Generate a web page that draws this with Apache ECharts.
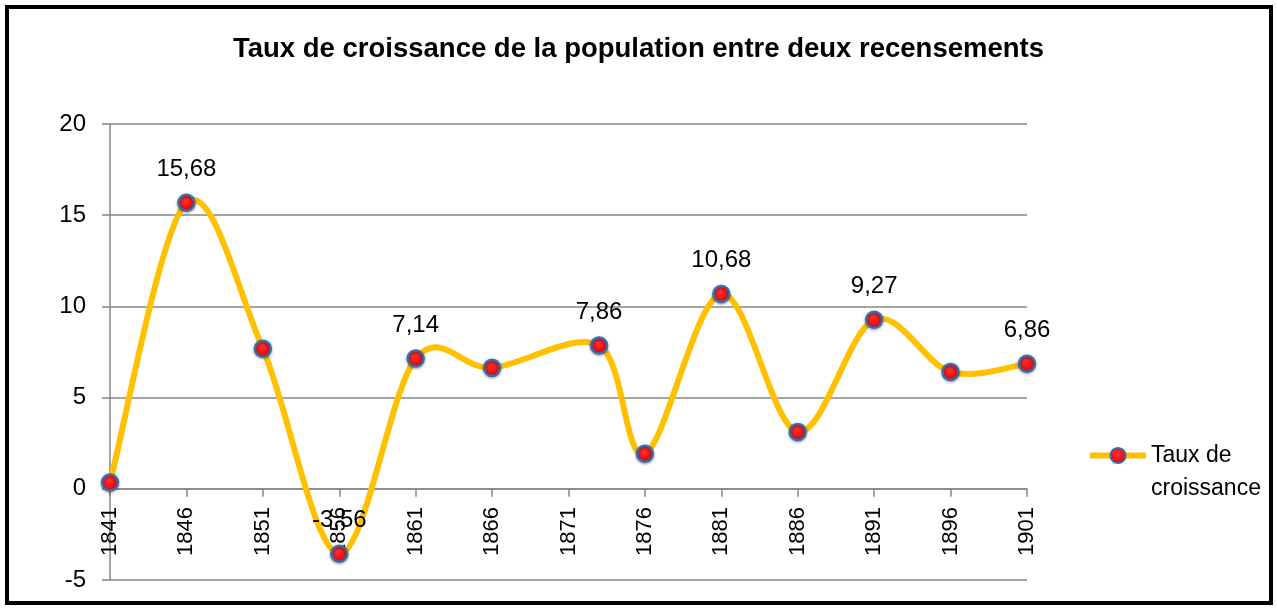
<!DOCTYPE html>
<html>
<head>
<meta charset="utf-8">
<script src="https://cdn.jsdelivr.net/npm/echarts@6/dist/echarts.min.js"></script>
<style>
  html, body { margin: 0; padding: 0; background: #fff; }
  #chart { width: 1277px; height: 610px; }
</style>
</head>
<body>
<div id="chart"></div>
<script>
var years = [1841, 1846, 1851, 1856, 1861, 1866, 1873, 1876, 1881, 1886, 1891, 1896, 1901];
var rates = [0.35, 15.68, 7.68, -3.56, 7.14, 6.63, 7.86, 1.92, 10.68, 3.12, 9.27, 6.41, 6.86];
// which points carry a data label in the original
var labelled = [false, true, false, true, true, false, true, false, true, false, true, false, true];
var firstYear = 1841;

var seriesData = [];
var curveData = [];
for (var i = 0; i < years.length; i++) {
    seriesData.push({
        value: [years[i] - firstYear, rates[i]],
        label: { show: labelled[i] }
    });
    curveData.push([years[i] - firstYear, rates[i]]);
}

// Excel-like smoothed line: cubic segments with Catmull-Rom control points
function renderCurve(params, api) {
    var i = params.dataIndex;
    var n = curveData.length;
    if (i >= n - 1) return null;
    var p = function (k) {
        k = Math.max(0, Math.min(n - 1, k));
        return api.coord(curveData[k]);
    };
    var p0 = p(i - 1), p1 = p(i), p2 = p(i + 1), p3 = p(i + 2);
    var t = 1 / 6;
    return {
        type: 'bezierCurve',
        shape: {
            x1: p1[0], y1: p1[1],
            x2: p2[0], y2: p2[1],
            cpx1: p1[0] + (p2[0] - p0[0]) * t,
            cpy1: p1[1] + (p2[1] - p0[1]) * t,
            cpx2: p2[0] - (p3[0] - p1[0]) * t,
            cpy2: p2[1] - (p3[1] - p1[1]) * t
        },
        style: {
            fill: null,
            stroke: '#FFC000',
            lineWidth: 6,
            lineCap: 'round'
        },
        silent: true
    };
}

var font = 'Liberation Sans, Arial, sans-serif';
var chart = echarts.init(document.getElementById('chart'));

var option = {
    animation: false,
    backgroundColor: '#fff',
    title: {
        text: 'Taux de croissance de la population entre deux recensements',
        left: 'center',
        top: 30,
        textStyle: {
            fontFamily: font,
            fontSize: 27.5,
            fontWeight: 'bold',
            color: '#000'
        }
    },
    graphic: [{
        type: 'rect',
        shape: { x: 7, y: 7, width: 1264, height: 596 },
        style: { fill: 'none', stroke: '#000', lineWidth: 4 },
        silent: true
    }],
    legend: {
        left: 1082,
        top: 401,
        orient: 'vertical',
        itemWidth: 56,
        itemHeight: 19,
        lineStyle: { width: 6, color: '#FFC000', opacity: 1 },
        formatter: function () {
            return ' \nTaux de\ncroissance';
        },
        textStyle: {
            fontFamily: font,
            fontSize: 23,
            color: '#000',
            lineHeight: 33
        },
        data: ['Taux de croissance']
    },
    grid: {
        left: 110,
        right: 250,
        top: 124,
        bottom: 30,
        outerBoundsMode: 'none'
    },
    xAxis: {
        type: 'value',
        min: 0,
        max: 60,
        interval: 5,
        axisLine: {
            onZero: true,
            lineStyle: { color: '#868686', width: 1.5 }
        },
        axisTick: {
            show: true,
            length: 8,
            lineStyle: { color: '#868686', width: 1.5 }
        },
        axisLabel: {
            rotate: 90,
            margin: -73,
            fontFamily: font,
            fontSize: 22,
            color: '#000',
            formatter: function (v) {
                return String(v + firstYear);
            }
        },
        splitLine: { show: false }
    },
    yAxis: {
        type: 'value',
        min: -5,
        max: 20,
        interval: 5,
        axisLine: {
            show: true,
            lineStyle: { color: '#868686', width: 1.5 }
        },
        axisTick: {
            show: true,
            length: 8,
            lineStyle: { color: '#868686', width: 1.5 }
        },
        axisLabel: {
            margin: 24,
            fontFamily: font,
            fontSize: 24,
            color: '#000'
        },
        splitLine: {
            show: true,
            lineStyle: { color: '#868686', width: 1.5 }
        }
    },
    series: [{
        type: 'custom',
        renderItem: renderCurve,
        encode: { x: 0, y: 1 },
        data: curveData,
        z: 2
    }, {
        name: 'Taux de croissance',
        type: 'line',
        symbol: 'circle',
        symbolSize: 16,
        lineStyle: { color: '#FFC000', width: 6, opacity: 0 },
        itemStyle: {
            color: {
                type: 'radial', x: 0.45, y: 0.4, r: 0.6,
                colorStops: [
                    { offset: 0, color: '#ff3030' },
                    { offset: 1, color: '#e00000' }
                ]
            },
            borderColor: '#3a6cab',
            borderWidth: 2.5,
            shadowColor: 'rgba(0,0,0,0.35)',
            shadowBlur: 3,
            shadowOffsetY: 1
        },
        label: {
            position: 'top',
            distance: 12,
            fontFamily: font,
            fontSize: 24,
            color: '#000',
            formatter: function (p) {
                return p.value[1].toFixed(2).replace('.', ',');
            }
        },
        data: seriesData,
        z: 3
    }]
};

chart.setOption(option);
</script>
</body>
</html>
